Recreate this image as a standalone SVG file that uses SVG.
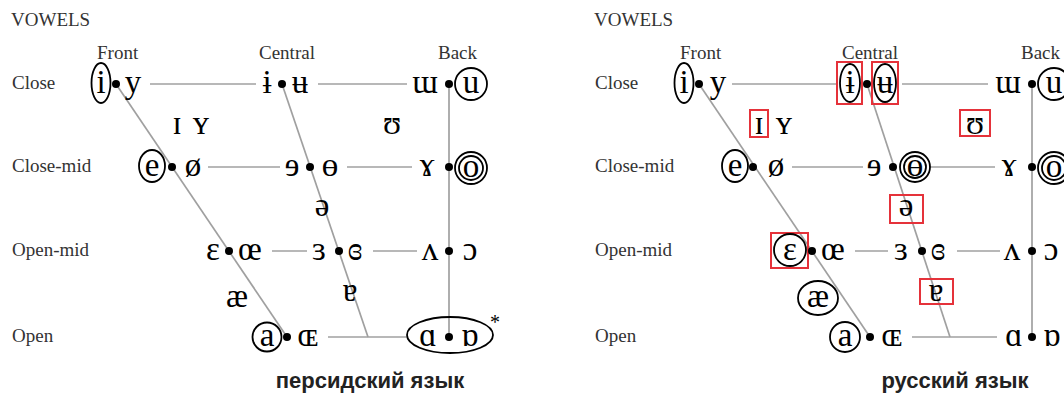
<svg xmlns="http://www.w3.org/2000/svg" width="1064" height="394" viewBox="0 0 1064 394">
<style>
.lbl{font-family:"Liberation Serif","DejaVu Serif",serif;font-size:19px;fill:#333}
.ipa{font-family:"Liberation Serif","DejaVu Serif",serif;font-size:33px;text-anchor:middle;fill:#000}
.ln{stroke:#a0a0a0;stroke-width:1.7;fill:none}
.dot{fill:#000}
.ring{fill:none;stroke:#000;stroke-width:1.8}
.box{fill:none;stroke:#e5323a;stroke-width:2}
.title{font-family:"Liberation Sans","Open Sans",sans-serif;font-weight:bold;font-size:22px;text-anchor:middle;fill:#222}
</style>
<rect width="1064" height="394" fill="#fff"/>

<!-- LEFT PANEL -->
<g id="left-labels">
<text class="lbl" x="11" y="26">VOWELS</text>
<text class="lbl" x="97" y="59">Front</text>
<text class="lbl" x="259" y="59">Central</text>
<text class="lbl" x="438" y="59">Back</text>
<text class="lbl" x="12" y="89">Close</text>
<text class="lbl" x="12" y="172">Close-mid</text>
<text class="lbl" x="12" y="256">Open-mid</text>
<text class="lbl" x="12" y="342">Open</text>
<text class="title" x="370" y="388">персидский язык</text>
</g>

<g id="left-connectors">
<line class="ln" x1="150" y1="84" x2="256" y2="84"/>
<line class="ln" x1="318" y1="84" x2="407" y2="84"/>
<line class="ln" x1="208" y1="167" x2="280" y2="167"/>
<line class="ln" x1="347" y1="167" x2="412" y2="167"/>
<line class="ln" x1="272" y1="251" x2="307" y2="251"/>
<line class="ln" x1="373" y1="251" x2="417" y2="251"/>
<line class="ln" x1="328" y1="337" x2="408" y2="337"/>
<line class="ln" x1="116" y1="84" x2="287" y2="337"/>
<line class="ln" x1="282" y1="84" x2="368" y2="337"/>
<line class="ln" x1="449" y1="84" x2="449" y2="337"/>
</g>

<g id="L-close-front">
<ellipse class="ring" cx="101" cy="83" rx="9.5" ry="20"/>
<text class="ipa" x="101" y="93">i</text>
<circle class="dot" cx="116" cy="84" r="4"/>
<text class="ipa" x="133" y="93">y</text>
</g>
<g id="L-close-central">
<text class="ipa" x="267" y="93">ɨ</text>
<circle class="dot" cx="282" cy="84" r="4"/>
<text class="ipa" x="300" y="93">ʉ</text>
</g>
<g id="L-close-back">
<text class="ipa" x="425" y="93">ɯ</text>
<circle class="dot" cx="449" cy="84" r="4"/>
<circle class="ring" cx="471" cy="84" r="16"/>
<text class="ipa" x="471" y="93">u</text>
</g>
<g id="L-near-close">
<text class="ipa" x="177" y="134">ɪ</text>
<text class="ipa" x="201" y="134">ʏ</text>
<text class="ipa" x="392" y="134">ʊ</text>
</g>
<g id="L-closemid-front">
<ellipse class="ring" cx="152" cy="166" rx="13" ry="16"/>
<text class="ipa" x="152" y="176">e</text>
<circle class="dot" cx="172" cy="167" r="4"/>
<text class="ipa" x="193" y="176">ø</text>
</g>
<g id="L-closemid-central">
<text class="ipa" x="292" y="176">ɘ</text>
<circle class="dot" cx="310" cy="167" r="4"/>
<text class="ipa" x="330" y="176">ɵ</text>
</g>
<g id="L-closemid-back">
<text class="ipa" x="427" y="176">ɤ</text>
<circle class="dot" cx="449" cy="167" r="4"/>
<circle class="ring" cx="471" cy="168" r="16"/>
<circle class="ring" cx="471" cy="168" r="12"/>
<text class="ipa" x="471" y="177">o</text>
</g>
<g id="L-mid">
<text class="ipa" x="322" y="216">ə</text>
</g>
<g id="L-openmid-front">
<text class="ipa" x="213" y="260">ɛ</text>
<circle class="dot" cx="229" cy="251" r="4"/>
<text class="ipa" x="250" y="260">œ</text>
</g>
<g id="L-openmid-central">
<text class="ipa" x="319" y="260">ɜ</text>
<circle class="dot" cx="339" cy="251" r="4"/>
<text class="ipa" x="355" y="260">ɞ</text>
</g>
<g id="L-openmid-back">
<text class="ipa" x="430" y="260">ʌ</text>
<circle class="dot" cx="449" cy="251" r="4"/>
<text class="ipa" x="470" y="260">ɔ</text>
</g>
<g id="L-near-open">
<text class="ipa" x="237" y="307">æ</text>
<text class="ipa" x="350" y="301">ɐ</text>
</g>
<g id="L-open-front">
<circle class="ring" cx="267" cy="337" r="14.5"/>
<text class="ipa" x="267" y="346">a</text>
<circle class="dot" cx="287" cy="337" r="4"/>
<text class="ipa" x="308" y="346">ɶ</text>
</g>
<g id="L-open-back">
<ellipse class="ring" cx="450" cy="335" rx="43" ry="18"/>
<text class="ipa" x="428" y="346">ɑ</text>
<circle class="dot" cx="449" cy="337" r="4"/>
<text class="ipa" x="470" y="346">ɒ</text>
<text class="ipa" x="495" y="329" style="font-size:20px">*</text>
</g>

<!-- RIGHT PANEL -->
<g id="right-labels">
<text class="lbl" x="594" y="26">VOWELS</text>
<text class="lbl" x="680" y="59">Front</text>
<text class="lbl" x="842" y="59">Central</text>
<text class="lbl" x="1021" y="59">Back</text>
<text class="lbl" x="595" y="89">Close</text>
<text class="lbl" x="595" y="172">Close-mid</text>
<text class="lbl" x="595" y="256">Open-mid</text>
<text class="lbl" x="595" y="342">Open</text>
<text class="title" x="955" y="388">русский язык</text>
</g>

<g id="right-connectors">
<line class="ln" x1="732" y1="84" x2="837" y2="84"/>
<line class="ln" x1="902" y1="84" x2="988" y2="84"/>
<line class="ln" x1="792" y1="167" x2="863" y2="167"/>
<line class="ln" x1="930" y1="167" x2="995" y2="167"/>
<line class="ln" x1="855" y1="251" x2="888" y2="251"/>
<line class="ln" x1="957" y1="251" x2="1000" y2="251"/>
<line class="ln" x1="912" y1="337" x2="997" y2="337"/>
<line class="ln" x1="699" y1="84" x2="870" y2="337"/>
<line class="ln" x1="867" y1="84" x2="950" y2="337"/>
<line class="ln" x1="1032" y1="84" x2="1032" y2="337"/>
</g>

<g id="R-close-front">
<ellipse class="ring" cx="684" cy="83" rx="9.5" ry="20"/>
<text class="ipa" x="684" y="93">i</text>
<circle class="dot" cx="699" cy="84" r="4"/>
<text class="ipa" x="718" y="93">y</text>
</g>
<g id="R-close-central">
<rect class="box" x="837" y="62" width="25" height="42"/>
<ellipse class="ring" cx="850" cy="83" rx="10" ry="19"/>
<text class="ipa" x="850" y="93">ɨ</text>
<circle class="dot" cx="867" cy="84" r="4"/>
<rect class="box" x="872" y="62" width="26" height="42"/>
<ellipse class="ring" cx="885" cy="83" rx="11" ry="19"/>
<text class="ipa" x="885" y="93">ʉ</text>
</g>
<g id="R-close-back">
<text class="ipa" x="1008" y="93">ɯ</text>
<circle class="dot" cx="1032" cy="84" r="4"/>
<circle class="ring" cx="1054" cy="84" r="16"/>
<text class="ipa" x="1054" y="93">u</text>
</g>
<g id="R-near-close">
<rect class="box" x="750" y="110" width="18" height="27"/>
<text class="ipa" x="759" y="134">ɪ</text>
<text class="ipa" x="784" y="134">ʏ</text>
<rect class="box" x="960" y="110" width="30" height="26"/>
<text class="ipa" x="975" y="134">ʊ</text>
</g>
<g id="R-closemid-front">
<ellipse class="ring" cx="735" cy="166" rx="13" ry="16"/>
<text class="ipa" x="735" y="176">e</text>
<circle class="dot" cx="753" cy="167" r="4"/>
<text class="ipa" x="776" y="176">ø</text>
</g>
<g id="R-closemid-central">
<text class="ipa" x="874" y="176">ɘ</text>
<circle class="dot" cx="893" cy="167" r="4"/>
<circle class="ring" cx="915" cy="167" r="15"/>
<circle class="ring" cx="915" cy="167" r="11"/>
<text class="ipa" x="915" y="176">ɵ</text>
</g>
<g id="R-closemid-back">
<text class="ipa" x="1009" y="176">ɤ</text>
<circle class="dot" cx="1032" cy="167" r="4"/>
<circle class="ring" cx="1054" cy="168" r="16"/>
<circle class="ring" cx="1054" cy="168" r="12"/>
<text class="ipa" x="1054" y="177">o</text>
</g>
<g id="R-mid">
<rect class="box" x="890" y="195" width="33" height="28"/>
<text class="ipa" x="906" y="216">ə</text>
</g>
<g id="R-openmid-front">
<rect class="box" x="771" y="233" width="37" height="35"/>
<circle class="ring" cx="790" cy="250" r="16"/>
<text class="ipa" x="790" y="260">ɛ</text>
<circle class="dot" cx="812" cy="251" r="4"/>
<text class="ipa" x="833" y="260">œ</text>
</g>
<g id="R-openmid-central">
<text class="ipa" x="901" y="260">ɜ</text>
<circle class="dot" cx="922" cy="251" r="4"/>
<text class="ipa" x="938" y="260">ɞ</text>
</g>
<g id="R-openmid-back">
<text class="ipa" x="1012" y="260">ʌ</text>
<circle class="dot" cx="1032" cy="251" r="4"/>
<text class="ipa" x="1051" y="260">ɔ</text>
</g>
<g id="R-near-open">
<ellipse class="ring" cx="818" cy="298" rx="20" ry="17"/>
<text class="ipa" x="818" y="307">æ</text>
<rect class="box" x="920" y="279" width="33" height="25"/>
<text class="ipa" x="936" y="301">ɐ</text>
</g>
<g id="R-open-front">
<circle class="ring" cx="845" cy="337" r="15"/>
<text class="ipa" x="845" y="346">a</text>
<circle class="dot" cx="870" cy="337" r="4"/>
<text class="ipa" x="892" y="346">ɶ</text>
</g>
<g id="R-open-back">
<text class="ipa" x="1014" y="346">ɑ</text>
<circle class="dot" cx="1032" cy="337" r="4"/>
<text class="ipa" x="1052" y="346">ɒ</text>
</g>
</svg>
